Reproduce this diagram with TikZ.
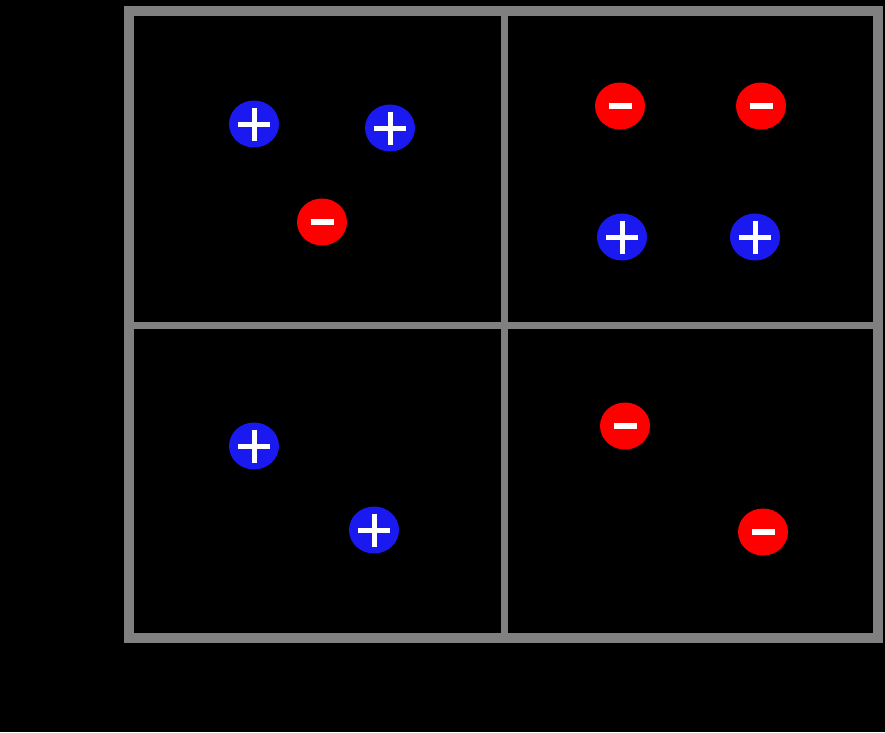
\documentclass[tikz,border=0pt]{standalone}
\usepackage{xcolor}
\usepackage{tikz}
\usetikzlibrary{shapes.geometric}
\definecolor{posblue}{RGB}{26,26,240}
\definecolor{negred}{RGB}{255,0,0}
\definecolor{gridgray}{RGB}{128,128,128}
\tikzset{
	x=1pt, y=-1pt,
	charge/.style={ellipse, minimum width=50pt, minimum height=47pt, inner sep=0pt},
	poscharge/.style={charge, fill=posblue, % positive charge
		path picture={
			\draw[white, line width=5pt] ([xshift=-16pt]path picture bounding box.center) -- ++(32pt,0pt);
			\draw[white, line width=5pt] ([yshift=16.5pt]path picture bounding box.center) -- ++(0pt,-33pt);
		}},
	negcharge/.style={charge, fill=negred, % negative charge
		path picture={
			\draw[white, line width=5.5pt] ([xshift=-11.5pt]path picture bounding box.center) -- ++(23pt,0pt);
		}},
	frame/.style={draw=gridgray, line width=10pt},
	divider/.style={draw=gridgray, line width=7pt},
}
\begin{document}
\begin{tikzpicture}
	% background and size
	\fill[black] (0,0) rectangle (885,732);
	\useasboundingbox (0,0) rectangle (885,732);

	% grid
	\coordinate (top) at (504,11);
	\coordinate (bottom) at (504,638);
	\coordinate (left) at (129,325);
	\coordinate (right) at (878,325);
	\draw[divider] (top) -- (bottom);
	\draw[divider] (left) -- (right);
	\draw[frame] (129,11) rectangle (878,638);

	% upper left
	\node[poscharge] (p1) at (254,124) {};
	\node[poscharge] (p2) at (390,128) {};
	\node[negcharge] (n1) at (322,222) {};

	% upper right
	\node[negcharge] (n2) at (620,106) {};
	\node[negcharge] (n3) at (761,106) {};
	\node[poscharge] (p3) at (622,237) {};
	\node[poscharge] (p4) at (755,237) {};

	% lower left
	\node[poscharge] (p5) at (254,446) {};
	\node[poscharge] (p6) at (374,530) {};

	% lower right
	\node[negcharge] (n4) at (625,426) {};
	\node[negcharge] (n5) at (763,532) {};
\end{tikzpicture}
\end{document}
